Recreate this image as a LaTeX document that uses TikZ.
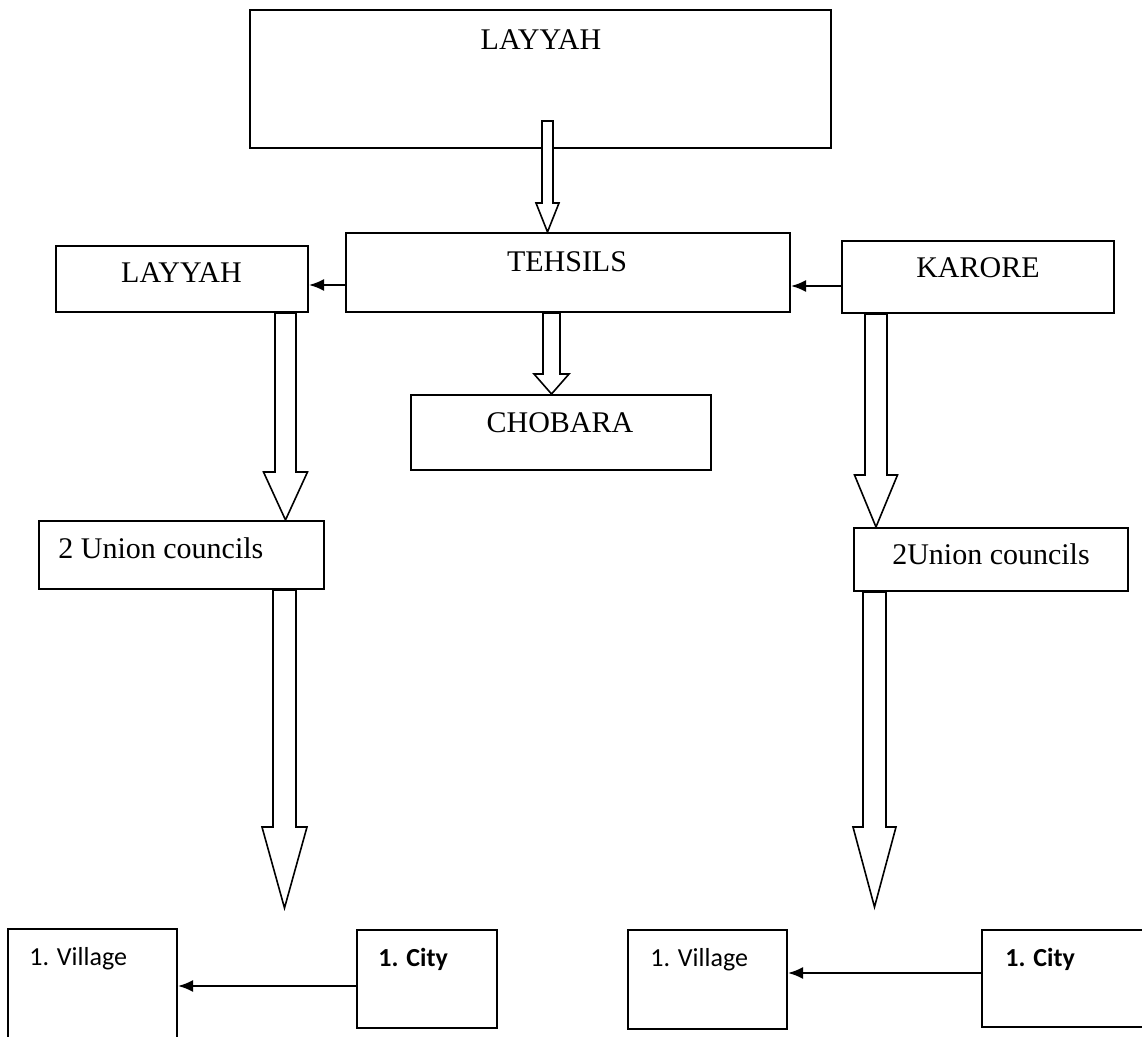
\documentclass[tikz,border=0pt]{standalone}
\usepackage{fontspec}
\setmainfont{Liberation Serif}
\newfontfamily\calfont{Carlito}
\usetikzlibrary{calc,arrows.meta}
\tikzset{
  box/.style={draw, line width=1pt, rectangle, inner sep=0pt, fill=white},
  tnr/.style={inner sep=0pt, font=\fontsize{15}{18}\selectfont},
  cal/.style={inner sep=0pt, font=\calfont\fontsize{13}{16}\selectfont},
  thinarrow/.style={line width=1pt, -{Latex[length=7.5pt,width=6pt]}},
  barrow/.style={draw, fill=white, line width=0.8pt, line join=miter},
}
% #1 x of arrow axis, #2 start (node anchor / coordinate), #3 tip, #4 shaft half width, #5 head half width, #6 head length
\newcommand\blockarr[6]{%
  \path (#1,0) coordinate (tmpx);
  \draw[barrow] ($(tmpx |- #2)+(-#4,0)$) -- ($(tmpx |- #3)+(-#4,-#6)$) -- ($(tmpx |- #3)+(-#5,-#6)$) -- (tmpx |- #3) -- ($(tmpx |- #3)+(#5,-#6)$) -- ($(tmpx |- #3)+(#4,-#6)$) -- ($(tmpx |- #2)+(#4,0)$) -- cycle;
}
\begin{document}
\begin{tikzpicture}[x=0.5pt,y=-0.5pt]
\useasboundingbox[fill=white] (0,0) rectangle (1142,1037);
% boxes
\node[box, minimum width=290.5pt, minimum height=69pt] (top) at (540.5,79) {};
\node[box, minimum width=222pt, minimum height=39.5pt] (tehsils) at (568,272.5) {};
\node[box, minimum width=126pt, minimum height=33pt] (layyah) at (182,279) {};
\node[box, minimum width=136pt, minimum height=36pt] (karore) at (978,277) {};
\node[box, minimum width=150pt, minimum height=37.5pt] (chobara) at (561,432.5) {};
\node[box, minimum width=142.5pt, minimum height=34pt] (ucl) at (181.5,555) {};
\node[box, minimum width=137pt, minimum height=31.5pt] (ucr) at (991,559.5) {};
\node[box, minimum width=84.5pt, minimum height=58pt] (villl) at (92.5,987) {};
\node[box, minimum width=70pt, minimum height=49pt] (cityl) at (427,979) {};
\node[box, minimum width=79.5pt, minimum height=49.5pt] (villr) at (707.5,979) {};
\node[box, minimum width=85pt, minimum height=48.5pt] (cityr) at (1067,978.5) {};
% texts
\node[tnr, anchor=base] (ttop) at (541,50) {LAYYAH};
\node[tnr, anchor=base] (ttehsils) at (567,272) {TEHSILS};
\node[tnr, anchor=base] (tchobara) at (560,433) {CHOBARA};
\node[tnr, anchor=base] (tlayyah) at (181.5,283) {LAYYAH};
\node[tnr, anchor=base] (tkarore) at (978,278) {KARORE};
\node[tnr, anchor=base] (tucr) at (991,565) {2Union councils};
\node[tnr, anchor=base west] (tucl) at (58,559) {2 Union councils};
\node[cal, anchor=base west] (tvilll) at (29,965) {1. Village};
\node[cal, anchor=base west] (tcityl) at (378,966) {\bfseries 1. City};
\node[cal, anchor=base west] (tvillr) at (650,966) {1. Village};
\node[cal, anchor=base west] (tcityr) at (1005,966) {\bfseries 1. City};
% thin arrows
\draw[thinarrow] (tehsils.west |- 0,285) coordinate (c1) -- (layyah.east |- c1);
\draw[thinarrow] (karore.west |- 0,286) coordinate (c2) -- (tehsils.east |- c2);
\draw[thinarrow] (cityl.west |- 0,986) coordinate (c3) -- (villl.east |- c3);
\draw[thinarrow] (cityr.west |- 0,973) coordinate (c4) -- (villr.east |- c4);
% block arrows
\coordinate (topstart) at (547.5,121);
\coordinate (tipl) at (284.5,908);
\coordinate (tipr) at (874.5,907);
\blockarr{547.5}{topstart}{tehsils.north}{5.5}{11.5}{29}
\blockarr{551.5}{tehsils.south}{chobara.north}{8.5}{17.5}{20}
\blockarr{285.5}{layyah.south}{ucl.north}{10.5}{22}{48}
\blockarr{876}{karore.south}{ucr.north}{11}{21.5}{52}
\blockarr{284.5}{ucl.south}{tipl}{11.5}{22.5}{81}
\blockarr{874.5}{ucr.south}{tipr}{11.5}{21.5}{80}
\end{tikzpicture}
\end{document}
